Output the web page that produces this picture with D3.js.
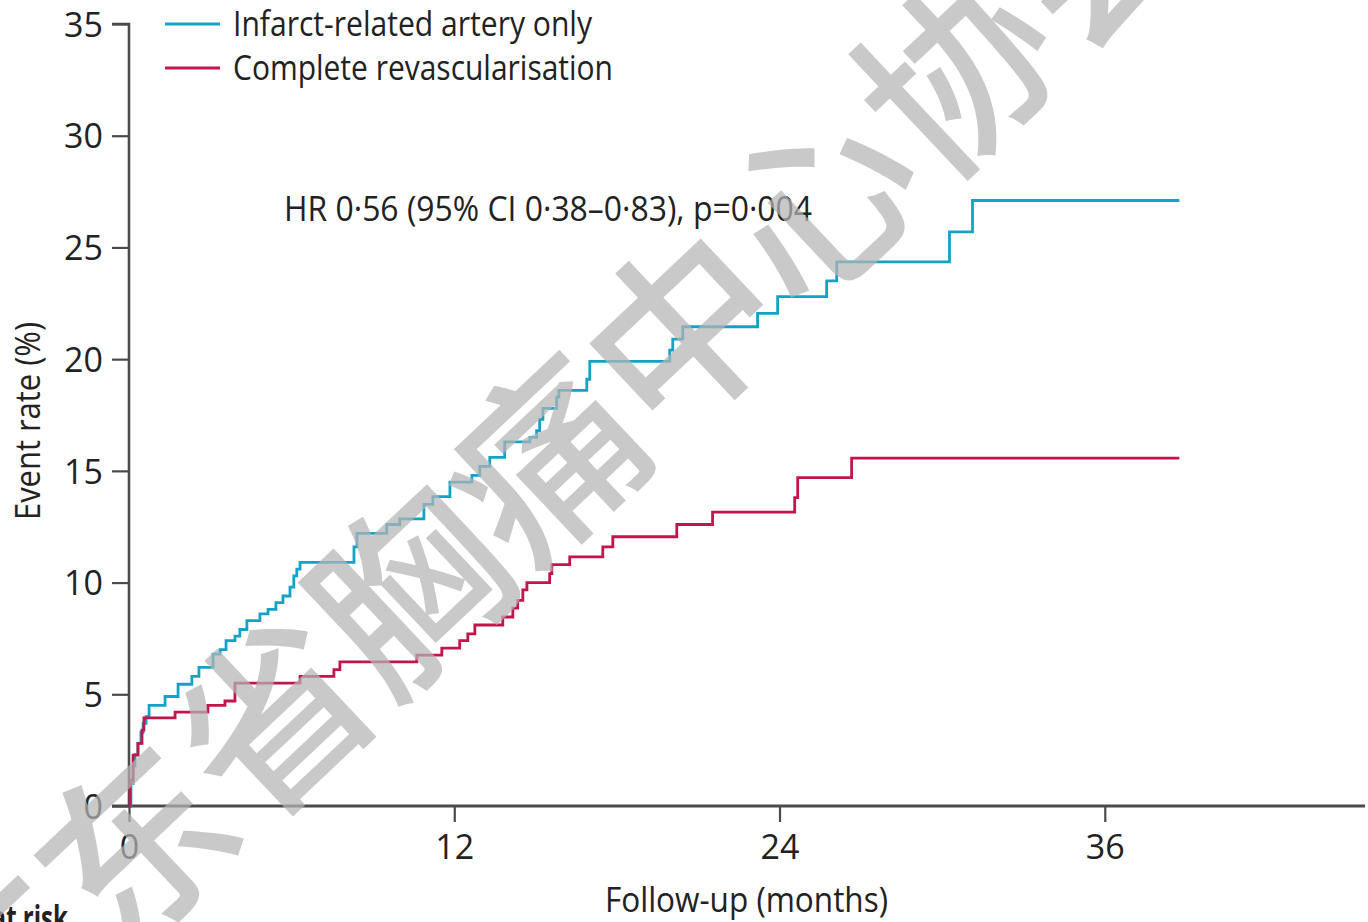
<!DOCTYPE html>
<html>
<head>
<meta charset="utf-8">
<script src="https://cdn.jsdelivr.net/npm/d3@7"></script>
<style>
  html, body { margin: 0; padding: 0; background: #fff; overflow: hidden; }
  svg { display: block; }
  .lbl { font-family: "Open Sans", sans-serif; fill: #222; }
</style>
</head>
<body>
<svg id="chart" width="1368" height="922"></svg>
<script>
// ---- data ----
const seriesNames = ["Infarct-related artery only", "Complete revascularisation"];
const seriesColors = ["#14a3c7", "#c4154a"];

// Infarct-related artery only: months, cumulative event rate (%)
const iraMonths = [0, 0.07, 0.15, 0.22, 0.33, 0.44, 0.52, 0.63, 0.74, 1.33, 1.81, 2.32, 2.58, 3.10, 3.36, 3.58, 3.91, 4.09, 4.35, 4.83, 5.13, 5.42, 5.68, 5.94, 6.08, 6.19, 6.31, 8.30, 8.41, 9.51, 9.99, 10.88, 11.21, 11.84, 12.65, 12.94, 13.31, 13.86, 14.79, 15.04, 15.15, 15.27, 15.78, 15.86, 16.89, 17.00, 19.95, 20.06, 20.43, 23.19, 23.93, 25.74, 26.11, 30.27, 31.12, 38.75];
const iraRates  = [0, 1.0, 1.8, 2.3, 2.8, 3.3, 3.7, 4.0, 4.5, 4.9, 5.45, 5.8, 6.2, 6.8, 7.0, 7.4, 7.6, 7.9, 8.3, 8.6, 8.8, 9.1, 9.4, 9.8, 10.3, 10.6, 10.9, 11.6, 12.2, 12.6, 12.85, 13.5, 13.85, 14.5, 14.8, 15.2, 15.6, 16.3, 16.5, 16.8, 17.3, 17.8, 18.3, 18.6, 19.1, 19.9, 20.4, 20.9, 21.45, 22.05, 22.8, 23.5, 24.35, 25.7, 27.1, 27.1];

// Complete revascularisation
const crMonths = [0, 0.04, 0.15, 0.33, 0.48, 0.55, 1.70, 2.91, 3.54, 3.91, 6.31, 7.56, 7.78, 10.62, 11.54, 12.20, 12.50, 12.76, 13.79, 14.16, 14.34, 14.53, 14.68, 15.52, 15.60, 16.26, 17.48, 17.85, 20.21, 21.53, 24.56, 24.67, 26.66, 38.75];
const crRates  = [0, 1.16, 2.28, 2.8, 3.4, 3.94, 4.2, 4.5, 4.7, 5.5, 5.8, 6.1, 6.45, 6.75, 7.07, 7.4, 7.7, 8.1, 8.46, 8.86, 9.2, 9.67, 10.0, 10.4, 10.8, 11.15, 11.6, 12.05, 12.6, 13.15, 13.8, 14.7, 15.57, 15.57];

const xTicks = [0, 12, 24, 36];
const yTicks = [0, 5, 10, 15, 20, 25, 30, 35];
const xLabel = "Follow-up (months)";
const yLabel = "Event rate (%)";
const annotation = "HR 0·56 (95% CI 0·38–0·83), p=0·004";
const riskLabel = "Number at risk";
const watermark = "广东省胸痛中心协会";

// ---- layout ----
const svg = d3.select("#chart");
const x = d3.scaleLinear().domain([0, 45.6]).range([129, 1365]);
const y = d3.scaleLinear().domain([0, 35]).range([806, 24]);
const axisColor = "#4a4a4a";

function fit(sel, w) {
  return sel.attr("textLength", w).attr("lengthAdjust", "spacingAndGlyphs");
}

// y axis
const yAxis = svg.append("g").attr("transform", `translate(${x(0)},0)`)
  .call(d3.axisLeft(y).tickValues(yTicks).tickSize(17).tickPadding(9).tickFormat(d3.format("d")));
yAxis.select(".domain").attr("stroke", axisColor).attr("stroke-width", 2.6)
  .attr("d", `M-17,${y(35)}H0V${y(0)}`);
yAxis.selectAll(".tick line").attr("stroke", axisColor).attr("stroke-width", 2.2);
yAxis.selectAll(".tick text").attr("class", "lbl").style("font-size", "34px")
  .attr("dy", "0.36em");

// x axis
const xAxis = svg.append("g").attr("transform", `translate(0,${y(0)})`)
  .call(d3.axisBottom(x).tickValues(xTicks).tickSize(16).tickPadding(10).tickFormat(d3.format("d")));
xAxis.select(".domain").attr("stroke", axisColor).attr("stroke-width", 2.8)
  .attr("d", `M112,0H${x(45.6)}`);
xAxis.selectAll(".tick line").attr("stroke", axisColor).attr("stroke-width", 2.2);
xAxis.selectAll(".tick text").attr("class", "lbl").style("font-size", "34px")
  .attr("dy", "0.78em");

// lines
const line = d3.line().x(d => x(d[0])).y(d => y(d[1])).curve(d3.curveStepAfter);
const seriesData = [
  d3.zip(iraMonths, iraRates),
  d3.zip(crMonths, crRates)
];
seriesData.forEach((data, i) => {
  svg.append("path").datum(data)
    .attr("fill", "none")
    .attr("stroke", seriesColors[i])
    .attr("stroke-width", 2.8)
    .attr("stroke-linejoin", "miter")
    .attr("d", line);
});

// legend
const legendWidths = [359, 380];
seriesNames.forEach((name, i) => {
  const ly = 24 + i * 44;
  svg.append("line").attr("x1", 165).attr("x2", 220).attr("y1", ly).attr("y2", ly)
    .attr("stroke", seriesColors[i]).attr("stroke-width", 2.8);
  fit(svg.append("text").attr("class", "lbl").attr("x", 233).attr("y", ly + 12)
    .style("font-size", "34px").text(name), legendWidths[i]);
});

// annotation
fit(svg.append("text").attr("class", "lbl").attr("x", 284).attr("y", 221)
  .style("font-size", "34px").text(annotation), 528);

// axis titles
fit(svg.append("text").attr("class", "lbl").attr("x", 605).attr("y", 912)
  .style("font-size", "34px").text(xLabel), 283);
fit(svg.append("text").attr("class", "lbl")
  .attr("transform", `translate(40,520) rotate(-90)`)
  .style("font-size", "34px").text(yLabel), 198);

// number at risk heading (cut off by the frame, as in the figure)
fit(svg.append("text").attr("class", "lbl").attr("x", -114).attr("y", 930)
  .style("font-size", "34px").style("font-weight", "bold")
  .text(riskLabel), 182);

// watermark
svg.append("text")
  .attr("transform", "translate(548,462) rotate(-43.3)")
  .attr("text-anchor", "middle").attr("dy", "0.36em")
  .style("font-family", '"Noto Sans CJK SC", sans-serif')
  .style("font-size", "188px")
  .style("font-weight", "500")
  .attr("fill", "#b4b4b4").attr("fill-opacity", 0.72)
  .text(watermark);
</script>
</body>
</html>
